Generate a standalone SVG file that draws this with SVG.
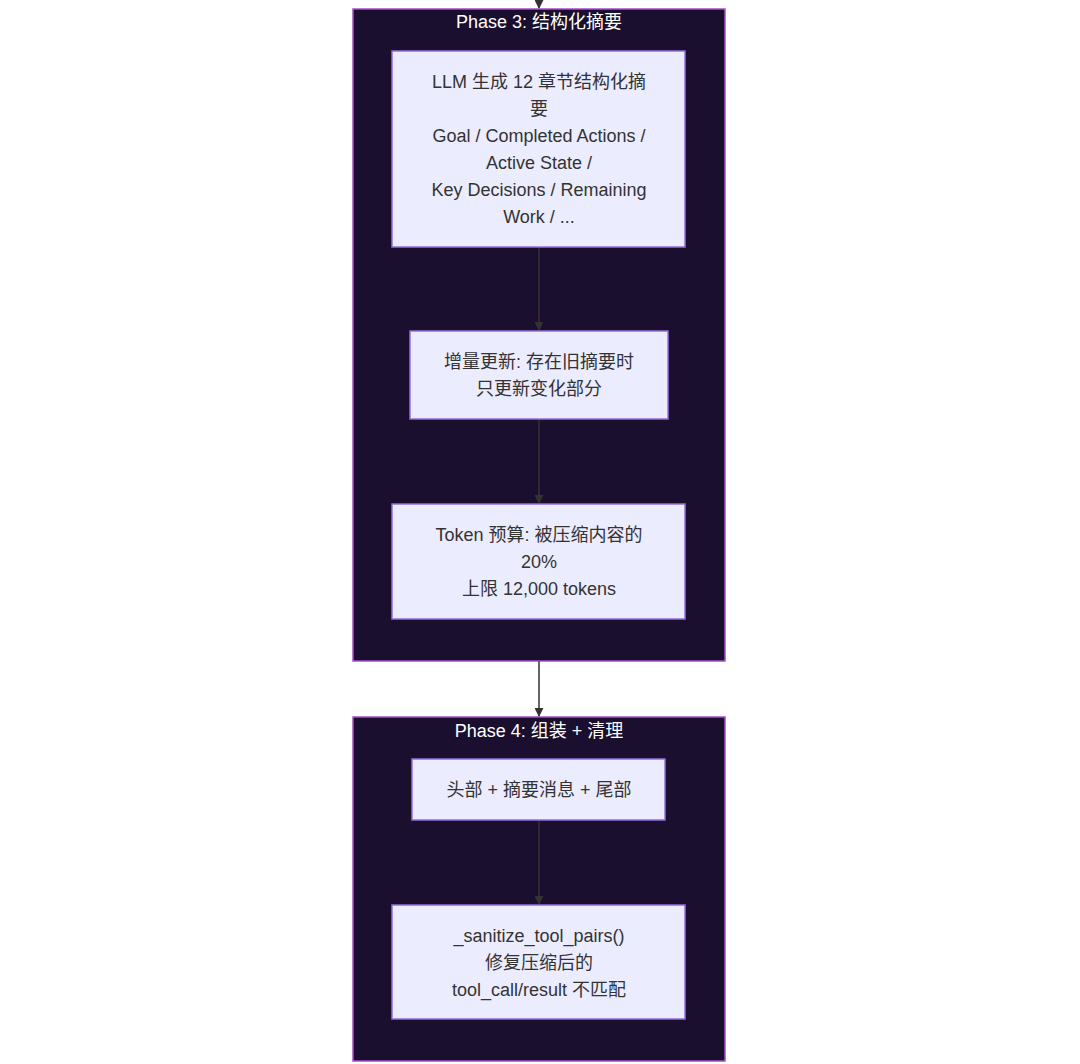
<svg xmlns="http://www.w3.org/2000/svg" width="1080" height="1064" viewBox="0 0 1080 1064">
<defs>
<style>
.cl{fill:#1a0f2e;stroke:#a64fc9;stroke-width:1.5}
.nd{fill:#ececff;stroke:#9370db;stroke-width:1.5}
.ct{fill:#ffffff;font-family:"Liberation Sans","Noto Sans CJK SC",sans-serif;font-size:18px;text-anchor:middle}
.t{fill:#333333;font-family:"Liberation Sans","Noto Sans CJK SC",sans-serif;font-size:18px;text-anchor:middle}
.e{fill:none;stroke:#333333;stroke-width:1.5}
.e2{fill:none;stroke:#666666;stroke-width:2}
</style>
<marker id="ah" viewBox="0 0 10 10" refX="9" refY="5" markerWidth="9" markerHeight="9" orient="auto" markerUnits="userSpaceOnUse">
<path d="M0,0 L10,5 L0,10 z" fill="#333333"/>
</marker>
</defs>
<rect width="1080" height="1064" fill="#ffffff"/>
<g id="phase3">
<rect class="cl" x="353" y="9" width="372" height="652"/>
<text class="ct" x="539" y="28">Phase 3: 结构化摘要</text>
</g>
<g id="phase4">
<rect class="cl" x="353" y="717" width="372" height="344"/>
<text class="ct" x="539" y="737">Phase 4: 组装 + 清理</text>
</g>
<g id="connectors">
<path class="e2" d="M539,0 L539,8" marker-end="url(#ah)"/>
<path class="e" d="M539,247 L539,330" marker-end="url(#ah)"/>
<path class="e" d="M539,419 L539,503" marker-end="url(#ah)"/>
<path class="e2" d="M539,661 L539,716" marker-end="url(#ah)"/>
<path class="e" d="M539,820 L539,904" marker-end="url(#ah)"/>
</g>
<g id="n1">
<rect class="nd" x="392" y="51" width="293" height="196"/>
<text class="t" x="539" y="88">LLM 生成 12 章节结构化摘</text>
<text class="t" x="539" y="115">要</text>
<text class="t" x="539" y="142">Goal / Completed Actions /</text>
<text class="t" x="539" y="169">Active State /</text>
<text class="t" x="539" y="196">Key Decisions / Remaining</text>
<text class="t" x="539" y="223">Work / ...</text>
</g>
<g id="n2">
<rect class="nd" x="410" y="331" width="258" height="88"/>
<text class="t" x="539" y="368">增量更新: 存在旧摘要时</text>
<text class="t" x="539" y="395">只更新变化部分</text>
</g>
<g id="n3">
<rect class="nd" x="392" y="504" width="293" height="115"/>
<text class="t" x="539" y="541">Token 预算: 被压缩内容的</text>
<text class="t" x="539" y="568">20%</text>
<text class="t" x="539" y="595">上限 12,000 tokens</text>
</g>
<g id="n4">
<rect class="nd" x="412" y="759" width="253" height="61"/>
<text class="t" x="539" y="796">头部 + 摘要消息 + 尾部</text>
</g>
<g id="n5">
<rect class="nd" x="392" y="905" width="293" height="114"/>
<text class="t" x="539" y="942">_sanitize_tool_pairs()</text>
<text class="t" x="539" y="969">修复压缩后的</text>
<text class="t" x="539" y="996">tool_call/result 不匹配</text>
</g>
</svg>
